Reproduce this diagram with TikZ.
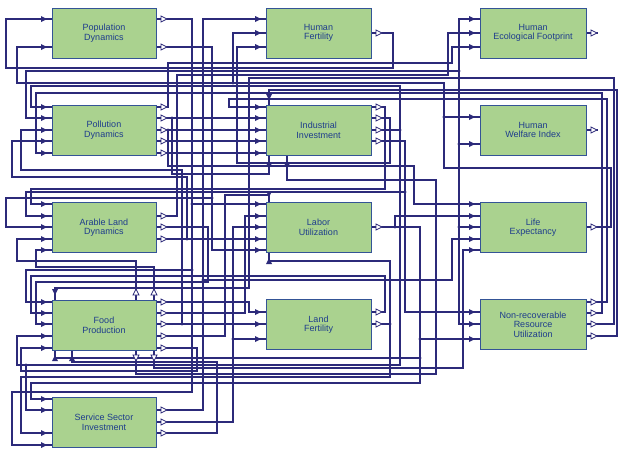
\documentclass[tikz,border=0pt]{standalone}
\usepackage{fontspec}
\setsansfont{Liberation Sans}
\usetikzlibrary{calc}
\definecolor{wirecol}{RGB}{44,42,122}
\definecolor{boxfill}{RGB}{170,210,143}
\definecolor{boxline}{RGB}{52,84,150}
\definecolor{txtcol}{RGB}{30,60,140}
\newcommand\inmk[1]{\fill[wirecol] ($(#1)+(-11,-3)$) -- ($(#1)+(-5,0)$) -- ($(#1)+(-11,3)$) -- cycle;}
\newcommand\outmk[1]{\draw[wirecol,line width=0.8pt,fill=white] ($(#1)+(5,-3)$) -- ($(#1)+(11,0)$) -- ($(#1)+(5,3)$) -- cycle;}
\newcommand\topinmk[1]{\fill[wirecol] ($(#1)+(-3,-11)$) -- ($(#1)+(0,-5)$) -- ($(#1)+(3,-11)$) -- cycle;}
\newcommand\botinmk[1]{\fill[wirecol] ($(#1)+(-3,11)$) -- ($(#1)+(0,5)$) -- ($(#1)+(3,11)$) -- cycle;}
\newcommand\topoutmk[1]{\draw[wirecol,line width=0.8pt,fill=white] ($(#1)+(-3,-5)$) -- ($(#1)+(0,-11)$) -- ($(#1)+(3,-5)$) -- cycle;}
\newcommand\botoutmk[1]{\draw[wirecol,line width=0.8pt,fill=white] ($(#1)+(-3,5)$) -- ($(#1)+(0,11)$) -- ($(#1)+(3,5)$) -- cycle;}
\newcommand\jdot[1]{\fill[wirecol] (#1) circle[radius=1.7pt];}
\begin{document}
\begin{tikzpicture}[x=1pt,y=-1pt,
  wire/.style={draw=wirecol,line width=1.1pt},
  blk/.style={draw=boxline,fill=boxfill,line width=1pt,inner sep=0pt,align=center,
    text=txtcol,font=\sffamily\fontsize{9}{9.6}\selectfont,minimum height=50pt},
  lblk/.style={blk,minimum width=104pt},
  mblk/.style={blk,minimum width=105pt},
  rblk/.style={blk,minimum width=106pt}]
\fill[white] (0,0) rectangle (620,450);
\useasboundingbox (0,0) rectangle (620,450);
% ---------- ports ----------
\coordinate (PD-i1) at (52,19); \coordinate (PD-i2) at (52,47);
\coordinate (PD-o1) at (156,19); \coordinate (PD-o2) at (156,47);
\coordinate (HF-i1) at (266,19); \coordinate (HF-i2) at (266,33); \coordinate (HF-i3) at (266,47);
\coordinate (HF-o1) at (371,33);
\coordinate (HEF-i1) at (480,19); \coordinate (HEF-i2) at (480,33); \coordinate (HEF-i3) at (480,47);
\coordinate (HEF-o1) at (586,33); \coordinate (HEF-e) at (598,33);
\foreach \k/\y in {1/107,2/118,3/130,4/141,5/153}{
  \coordinate (PoD-i\k) at (52,\y); \coordinate (PoD-o\k) at (156,\y);
  \coordinate (II-i\k) at (266,\y);}
\foreach \k/\y in {1/107,2/118,3/130,4/141}{\coordinate (II-o\k) at (371,\y);}
\coordinate (II-t) at (269,105); \coordinate (II-b1) at (269,155); \coordinate (II-b2) at (287,155);
\coordinate (HWI-i1) at (480,117); \coordinate (HWI-i2) at (480,144);
\coordinate (HWI-o1) at (586,130); \coordinate (HWI-e) at (598,130);
\foreach \k/\y in {1/204,2/216,3/227,4/239,5/250}{
  \coordinate (ALD-i\k) at (52,\y); \coordinate (LU-i\k) at (266,\y); \coordinate (LE-i\k) at (480,\y);}
\foreach \k/\y in {1/216,2/227,3/239}{\coordinate (ALD-o\k) at (156,\y);}
\coordinate (LU-t) at (269,202); \coordinate (LU-b) at (269,253); \coordinate (LU-o1) at (371,227);
\coordinate (LE-o1) at (586,227);
\foreach \k/\y in {1/302,2/313,3/324,4/336,5/348}{
  \coordinate (FP-i\k) at (52,\y); \coordinate (FP-o\k) at (156,\y);}
\coordinate (FP-t1) at (55,300); \coordinate (FP-t2) at (136,300); \coordinate (FP-t3) at (154,300);
\coordinate (FP-b1) at (55,350); \coordinate (FP-b2) at (72,350); \coordinate (FP-b3) at (136,350); \coordinate (FP-b4) at (154,350);
\foreach \k/\y in {1/312,2/324,3/339}{\coordinate (LF-i\k) at (266,\y); \coordinate (NRU-i\k) at (480,\y);}
\coordinate (LF-o1) at (371,312); \coordinate (LF-o2) at (371,324);
\foreach \k/\y in {1/302,2/313,3/324,4/336}{\coordinate (NRU-o\k) at (586,\y);}
\foreach \k/\y in {1/399,2/410,3/433,4/445}{\coordinate (SSI-i\k) at (52,\y);}
\foreach \k/\y in {1/410,2/422,3/433}{\coordinate (SSI-o\k) at (156,\y);}
% ---------- junctions ----------
\coordinate (jA) at (233,83); \coordinate (jB) at (444,117); \coordinate (jC) at (192,71);
\coordinate (jD) at (459,71); \coordinate (jE) at (459,144); \coordinate (jF) at (459,227);
\coordinate (jG) at (192,204); \coordinate (jH) at (192,270); \coordinate (jI) at (203,280);
\coordinate (jJ) at (212,198); \coordinate (jK) at (187,239); \coordinate (jL) at (172,118);
\coordinate (jM) at (168,130); \coordinate (jN) at (233,339); \coordinate (jO) at (182,324);
\coordinate (jP) at (400,130); \coordinate (jQ) at (405,192); \coordinate (jR) at (395,227);
\coordinate (jS) at (420,339); \coordinate (jT) at (420,358); \coordinate (jU) at (26,365);
\coordinate (jV) at (390,324);
% ---------- wires ----------
\draw[wire] (HF-o1) -- (393,33) -- (393,68) -- (6,68) -- (6,19) -- (PD-i1);
\draw[wire] (LE-o1) -- (611,227) -- (611,168) -- (444,168) -- (444,83) -- (17,83) -- (17,47) -- (PD-i2);
\draw[wire] (jA) -- (233,33) -- (HF-i2);
\draw[wire] (jB) -- (HWI-i1);
\draw[wire] (SSI-o1) -- (203,410) -- (203,19) -- (HF-i1);
\draw[wire] (II-o2) -- (390,118) -- (390,163) -- (237,163) -- (237,47) -- (HF-i3);
\draw[wire] (PD-o1) -- (192,19) -- (jC) -- (jD) -- (459,19) -- (HEF-i1);
\draw[wire] (jC) -- (26,71) -- (26,118) -- (PoD-i2);
\draw[wire] (ALD-o1) -- (177,216) -- (177,75) -- (448,75) -- (448,33) -- (HEF-i2);
\draw[wire] (PoD-o1) -- (168,107) -- (168,63) -- (452,63) -- (452,47) -- (HEF-i3);
\draw[wire] (HEF-o1) -- (HEF-e);
\draw[wire] (HWI-o1) -- (HWI-e);
\draw[wire] (II-o3) -- (jP) -- (400,86) -- (31,86) -- (31,107) -- (PoD-i1);
\draw[wire] (FP-o3) -- (jO) -- (182,170) -- (21,170) -- (21,130) -- (PoD-i3);
\draw[wire] (ALD-o3) -- (jK) -- (187,177) -- (12,177) -- (12,141) -- (PoD-i4);
\draw[wire] (NRU-o2) -- (602,313) -- (602,93) -- (36,93) -- (36,153) -- (PoD-i5);
\draw[wire] (NRU-o1) -- (607,302) -- (607,99) -- (229,99) -- (229,107) -- (II-i1);
\draw[wire] (PoD-o2) -- (II-i2);
\draw[wire] (PoD-o3) -- (II-i3);
\draw[wire] (PoD-o4) -- (II-i4);
\draw[wire] (PoD-o5) -- (II-i5);
\draw[wire] (NRU-o4) -- (617,336) -- (617,90) -- (269,90) -- (II-t);
\draw[wire] (jL) -- (172,174) -- (269,174) -- (II-b1);
\draw[wire] (FP-b3) -- (136,374) -- (436,374) -- (436,180) -- (287,180) -- (II-b2);
\draw[wire] (II-o1) -- (385,107) -- (385,189) -- (31,189) -- (31,204) -- (ALD-i1);
\draw[wire] (II-o4) -- (405,141) -- (jQ) -- (26,192) -- (26,216) -- (ALD-i2);
\draw[wire] (PD-o2) -- (212,47) -- (jJ) -- (6,198) -- (6,227) -- (ALD-i3);
\draw[wire] (FP-t2) -- (136,261) -- (17,261) -- (17,239) -- (ALD-i4);
\draw[wire] (FP-t3) -- (154,267) -- (36,267) -- (36,250) -- (ALD-i5);
\draw[wire] (jC) -- (jG) -- (LU-i1);
\draw[wire] (FP-o2) -- (245,313) -- (245,216) -- (LU-i2);
\draw[wire] (SSI-o2) -- (233,422) -- (jN) -- (233,227) -- (LU-i3);
\draw[wire] (jK) -- (LU-i4);
\draw[wire] (jJ) -- (212,250) -- (LU-i5);
\draw[wire] (FP-o4) -- (225,336) -- (225,195) -- (269,195) -- (LU-t);
\draw[wire] (LF-o2) -- (jV) -- (390,261) -- (269,261) -- (LU-b);
\draw[wire] (jM) -- (168,166) -- (414,166) -- (414,204) -- (LE-i1);
\draw[wire] (jR) -- (395,216) -- (LE-i2);
\draw[wire] (jD) -- (jF) -- (LE-i3);
\draw[wire] (jE) -- (HWI-i2);
\draw[wire] (jF) -- (459,324) -- (NRU-i2);
\draw[wire] (jI) -- (452,280) -- (452,239) -- (LE-i4);
\draw[wire] (FP-b4) -- (154,368) -- (463,368) -- (463,250) -- (LE-i5);
\draw[wire] (jG) -- (jH) -- (26,270) -- (26,302) -- (FP-i1);
\draw[wire] (LF-o1) -- (385,312) -- (385,276) -- (31,276) -- (31,313) -- (FP-i2);
\draw[wire] (ALD-o2) -- (208,227) -- (208,282) -- (36,282) -- (36,324) -- (FP-i3);
\draw[wire] (jP) -- (400,365) -- (jU) -- (17,365) -- (17,336) -- (FP-i4);
\draw[wire] (FP-o5) -- (197,348) -- (197,371) -- (21,371) -- (21,348) -- (FP-i5);
\draw[wire] (NRU-o3) -- (614,324) -- (614,78) -- (249,78) -- (249,288) -- (55,288) -- (FP-t1);
\draw[wire] (jT) -- (55,358) -- (FP-b1);
\draw[wire] (SSI-o3) -- (217,433) -- (217,362) -- (72,362) -- (FP-b2);
\draw[wire] (FP-o1) -- (249,302) -- (249,312) -- (LF-i1);
\draw[wire] (jO) -- (LF-i2);
\draw[wire] (jN) -- (LF-i3);
\draw[wire] (jQ) -- (405,312) -- (NRU-i1);
\draw[wire] (jS) -- (NRU-i3);
\draw[wire] (LU-o1) -- (jR) -- (420,227) -- (jS) -- (jT) -- (420,383) -- (31,383) -- (31,399) -- (SSI-i1);
\draw[wire] (jU) -- (26,410) -- (SSI-i2);
\draw[wire] (jV) -- (390,377) -- (21,377) -- (21,433) -- (SSI-i3);
\draw[wire] (jH) -- (192,392) -- (12,392) -- (12,445) -- (SSI-i4);
% ---------- junction dots ----------
\foreach \j in {jA,jB,jC,jD,jE,jF,jG,jH,jI,jJ,jK,jL,jM,jN,jO,jP,jQ,jR,jS,jT,jU,jV}{\jdot{\j}}
% ---------- blocks ----------
\node[lblk] (PD) at (104,33) {Population\\Dynamics};
\node[mblk] (HF) at (318.5,33) {Human\\Fertility};
\node[rblk] (HEF) at (533,33) {Human\\Ecological Footprint};
\node[lblk] (PoD) at (104,130) {Pollution\\Dynamics};
\node[mblk] (II) at (318.5,130) {Industrial\\Investment};
\node[rblk] (HWI) at (533,130) {Human\\Welfare Index};
\node[lblk] (ALD) at (104,227.5) {Arable Land\\Dynamics};
\node[mblk] (LU) at (318.5,227.5) {Labor\\Utilization};
\node[rblk] (LE) at (533,227.5) {Life\\Expectancy};
\node[lblk] (FP) at (104,325) {Food\\Production};
\node[mblk] (LF) at (318.5,324.5) {Land\\Fertility};
\node[rblk] (NRU) at (533,324.5) {Non-recoverable\\Resource\\Utilization};
\node[lblk] (SSI) at (104,422) {Service Sector\\Investment};
% ---------- port marks ----------
\foreach \p in {PD-i1,PD-i2,HF-i1,HF-i2,HF-i3,HEF-i1,HEF-i2,HEF-i3,
  PoD-i1,PoD-i2,PoD-i3,PoD-i4,PoD-i5,II-i1,II-i2,II-i3,II-i4,II-i5,HWI-i1,HWI-i2,
  ALD-i1,ALD-i2,ALD-i3,ALD-i4,ALD-i5,LU-i1,LU-i2,LU-i3,LU-i4,LU-i5,
  LE-i1,LE-i2,LE-i3,LE-i4,LE-i5,FP-i1,FP-i2,FP-i3,FP-i4,FP-i5,
  LF-i1,LF-i2,LF-i3,NRU-i1,NRU-i2,NRU-i3,SSI-i1,SSI-i2,SSI-i3,SSI-i4}{\inmk{\p}}
\foreach \p in {PD-o1,PD-o2,HF-o1,HEF-o1,PoD-o1,PoD-o2,PoD-o3,PoD-o4,PoD-o5,
  II-o1,II-o2,II-o3,II-o4,HWI-o1,ALD-o1,ALD-o2,ALD-o3,LU-o1,LE-o1,
  FP-o1,FP-o2,FP-o3,FP-o4,FP-o5,LF-o1,LF-o2,NRU-o1,NRU-o2,NRU-o3,NRU-o4,
  SSI-o1,SSI-o2,SSI-o3}{\outmk{\p}}
\foreach \p in {II-t,LU-t,FP-t1}{\topinmk{\p}}
\foreach \p in {II-b1,II-b2,LU-b,FP-b1,FP-b2}{\botinmk{\p}}
\foreach \p in {FP-t2,FP-t3}{\topoutmk{\p}}
\foreach \p in {FP-b3,FP-b4}{\botoutmk{\p}}
\end{tikzpicture}
\end{document}
